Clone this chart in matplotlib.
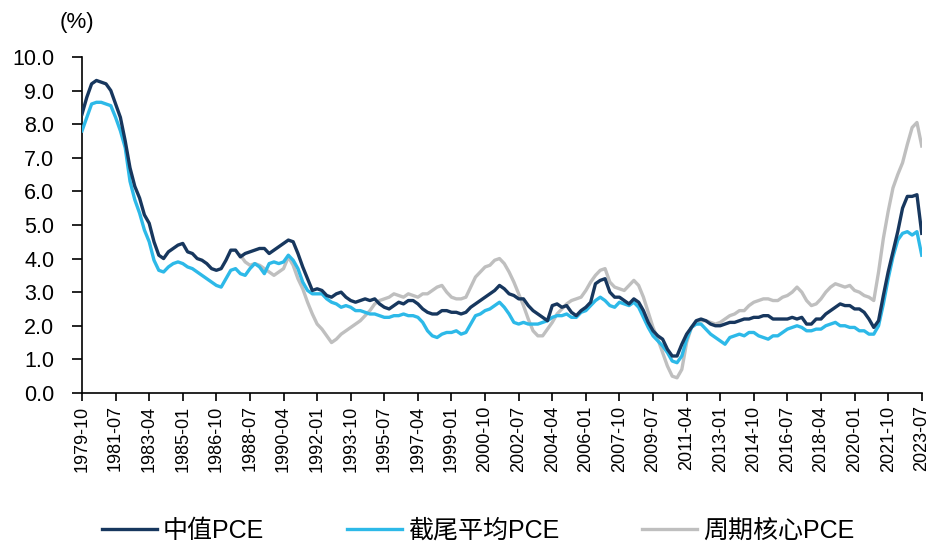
import numpy as np
import pandas as pd
import matplotlib
matplotlib.use("Agg")
import matplotlib.pyplot as plt

plt.rcParams["font.family"] = ["Liberation Sans", "Noto Sans CJK SC", "DejaVu Sans"]

# ---------------------------------
# Data: quarterly readings, YoY %
# ---------------------------------
months = pd.period_range("1979-10", "2023-07", freq="M")

median_pce = [
    8.3, 8.8, 9.2, 9.3, 9.25, 9.2, 9.0, 8.6, 8.2, 7.5, 6.7, 6.15, 5.8, 5.3, 5.05,
    4.5, 4.1, 4.0, 4.2, 4.3, 4.4, 4.45, 4.2, 4.15, 4.0, 3.95, 3.85, 3.7, 3.65, 3.7,
    3.95, 4.25, 4.25, 4.05, 4.15, 4.2, 4.25, 4.3, 4.3, 4.15, 4.25, 4.35, 4.45, 4.55,
    4.5, 4.15, 3.75, 3.4, 3.05, 3.1, 3.05, 2.9, 2.85, 2.95, 3.0, 2.85, 2.75, 2.7,
    2.75, 2.8, 2.75, 2.8, 2.65, 2.55, 2.5, 2.6, 2.7, 2.65, 2.75, 2.75, 2.65, 2.5,
    2.4, 2.35, 2.35, 2.45, 2.45, 2.4, 2.4, 2.35, 2.4, 2.55, 2.65, 2.75, 2.85, 2.95,
    3.05, 3.2, 3.1, 2.95, 2.9, 2.8, 2.8, 2.6, 2.45, 2.35, 2.25, 2.15, 2.6, 2.65,
    2.55, 2.6, 2.4, 2.3, 2.45, 2.55, 2.7, 3.25, 3.35, 3.4, 3.0, 2.85, 2.85, 2.75,
    2.65, 2.8, 2.7, 2.45, 2.1, 1.85, 1.7, 1.6, 1.3, 1.1, 1.1, 1.45, 1.75, 1.95,
    2.15, 2.2, 2.15, 2.05, 2.0, 2.0, 2.05, 2.1, 2.1, 2.15, 2.2, 2.2, 2.25, 2.25,
    2.3, 2.3, 2.2, 2.2, 2.2, 2.2, 2.25, 2.2, 2.25, 2.05, 2.05, 2.2, 2.2, 2.35,
    2.45, 2.55, 2.65, 2.6, 2.6, 2.5, 2.5, 2.4, 2.2, 1.95, 2.15, 2.9, 3.6, 4.2,
    4.8, 5.5, 5.85, 5.85, 5.9, 4.75,
]

trimmed_pce = [
    7.8, 8.2, 8.6, 8.65, 8.65, 8.6, 8.55, 8.2, 7.8, 7.3, 6.3, 5.75, 5.35, 4.85, 4.5,
    3.95, 3.65, 3.6, 3.75, 3.85, 3.9, 3.85, 3.75, 3.7, 3.6, 3.5, 3.4, 3.3, 3.2, 3.15,
    3.4, 3.65, 3.7, 3.55, 3.5, 3.7, 3.85, 3.75, 3.55, 3.85, 3.9, 3.85, 3.9, 4.1,
    3.95, 3.7, 3.3, 3.05, 2.95, 2.95, 2.95, 2.8, 2.7, 2.65, 2.55, 2.6, 2.55, 2.45,
    2.45, 2.4, 2.35, 2.35, 2.3, 2.25, 2.25, 2.3, 2.3, 2.35, 2.3, 2.3, 2.25, 2.1,
    1.85, 1.7, 1.65, 1.75, 1.8, 1.8, 1.85, 1.75, 1.8, 2.05, 2.3, 2.35, 2.45, 2.5,
    2.6, 2.7, 2.55, 2.35, 2.1, 2.05, 2.1, 2.05, 2.05, 2.05, 2.1, 2.15, 2.25, 2.3,
    2.3, 2.35, 2.25, 2.25, 2.4, 2.45, 2.6, 2.75, 2.85, 2.75, 2.6, 2.55, 2.7, 2.65,
    2.6, 2.7, 2.55, 2.25, 1.95, 1.7, 1.55, 1.4, 1.2, 0.95, 0.9, 1.1, 1.6, 1.95,
    2.05, 2.05, 1.9, 1.75, 1.65, 1.55, 1.45, 1.65, 1.7, 1.75, 1.7, 1.8, 1.8, 1.7,
    1.65, 1.6, 1.7, 1.7, 1.8, 1.9, 1.95, 2.0, 1.95, 1.85, 1.85, 1.9, 1.9, 2.0,
    2.05, 2.1, 2.0, 2.0, 1.95, 1.95, 1.85, 1.85, 1.75, 1.75, 2.0, 2.65, 3.4, 4.05,
    4.55, 4.75, 4.8, 4.7, 4.8, 4.1,
]

# cyclical core series starts in 1988-01
cyclical_start = "1988-01"
cyclical_pce = [
    4.1, 3.9, 3.8, 3.85, 3.8, 3.7, 3.6, 3.5, 3.6, 3.7, 4.05, 3.8, 3.4, 3.1, 2.7,
    2.35, 2.05, 1.9, 1.7, 1.5, 1.6, 1.75, 1.85, 1.95, 2.05, 2.15, 2.3, 2.45, 2.65,
    2.75, 2.8, 2.85, 2.95, 2.9, 2.85, 2.95, 2.9, 2.85, 2.95, 2.95, 3.05, 3.15, 3.2,
    3.0, 2.85, 2.8, 2.8, 2.85, 3.15, 3.45, 3.6, 3.75, 3.8, 3.95, 4.0, 3.85, 3.6,
    3.3, 2.95, 2.6, 2.2, 1.85, 1.7, 1.7, 1.9, 2.1, 2.35, 2.5, 2.65, 2.75, 2.8, 2.85,
    3.05, 3.3, 3.5, 3.65, 3.7, 3.3, 3.15, 3.1, 3.05, 3.2, 3.35, 3.2, 2.85, 2.4,
    1.95, 1.6, 1.2, 0.8, 0.5, 0.45, 0.7, 1.5, 1.95, 2.1, 2.15, 2.15, 2.1, 2.05,
    2.1, 2.2, 2.3, 2.35, 2.45, 2.45, 2.6, 2.7, 2.75, 2.8, 2.8, 2.75, 2.75, 2.85,
    2.9, 3.0, 3.15, 3.0, 2.75, 2.6, 2.65, 2.8, 3.0, 3.15, 3.25, 3.2, 3.15, 3.2,
    3.05, 3.0, 2.9, 2.85, 2.75, 3.6, 4.6, 5.4, 6.1, 6.5, 6.85, 7.4, 7.9, 8.05, 7.35,
]

labels = ["中值PCE", "截尾平均PCE", "周期核心PCE"]
colors = ["#17375E", "#2DB9E8", "#BFBFBF"]

# month positions of the quarterly points
x_main = np.arange(0, len(months), 3)
x_cyc = x_main[list(months[x_main].astype(str)).index(cyclical_start):]

# ---------------------------------
# Plot
# ---------------------------------
fig = plt.figure(figsize=(9.32, 5.45), dpi=100)
ax = fig.add_axes([0.088, 0.279, 0.901, 0.6165])

ax.plot(x_cyc, cyclical_pce, color=colors[2], lw=2.4, label=labels[2], zorder=2)
ax.plot(x_main, trimmed_pce, color=colors[1], lw=2.4, label=labels[1], zorder=3)
ax.plot(x_main, median_pce, color=colors[0], lw=2.4, label=labels[0], zorder=4)

ax.set_xlim(0, len(months) - 1)
ax.set_ylim(0, 10)
ax.set_yticks(np.arange(0, 10.5, 1))
ax.set_yticklabels([f"{v:.1f}" for v in np.arange(0, 10.5, 1)], fontsize=15.5)

tick_pos = np.arange(0, len(months), 21)
ax.set_xticks(tick_pos)
ax.set_xticklabels([str(months[i]) for i in tick_pos], rotation=90, fontsize=13)

for side in ["top", "right"]:
    ax.spines[side].set_visible(False)
ax.spines["left"].set_linewidth(1.2)
ax.spines["bottom"].set_linewidth(1.2)
ax.tick_params(axis="x", direction="out", length=6, width=1.2, pad=3)
ax.tick_params(axis="y", direction="out", length=7, width=1.2, pad=13)

fig.text(0.083, 0.958, "(%)", fontsize=16, ha="center", va="center")

handles, labs = ax.get_legend_handles_labels()
order = [2, 1, 0]
fig.legend([handles[i] for i in order], [labs[i] for i in order],
           loc="center", bbox_to_anchor=(0.513, 0.026), ncol=3, frameon=False,
           fontsize=18, handlelength=2.2, handletextpad=0.25, columnspacing=3.3)

fig.savefig("out.png", dpi=100)
